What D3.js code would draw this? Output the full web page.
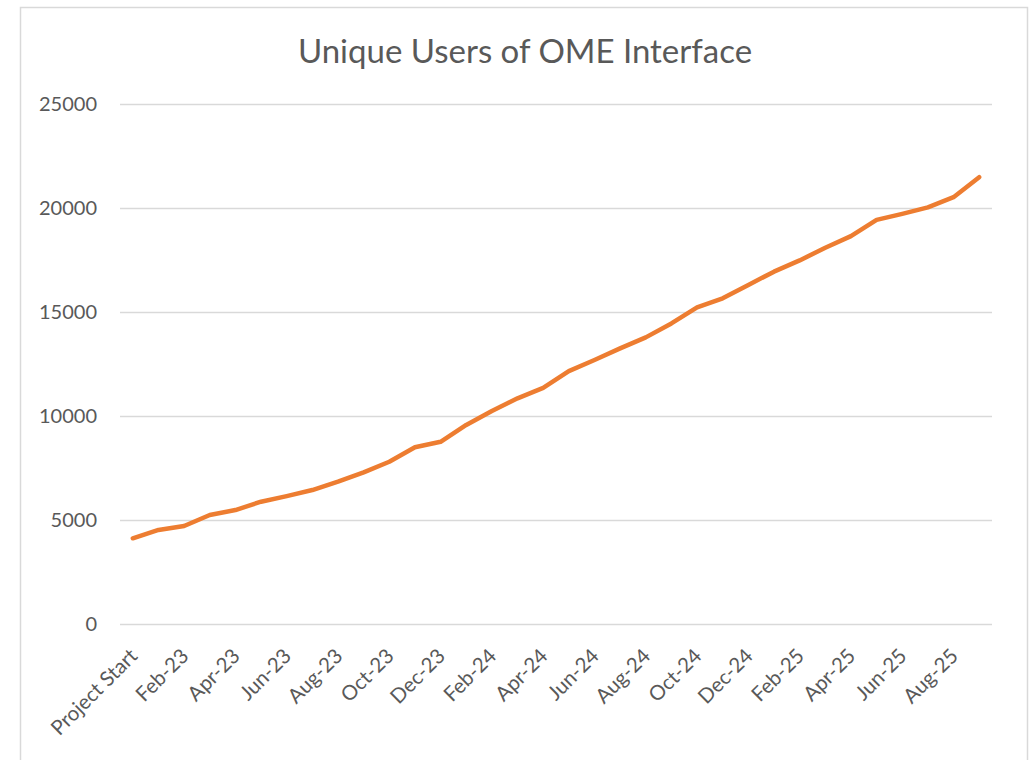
<!DOCTYPE html>
<html>
<head>
<meta charset="utf-8">
<script src="https://cdn.jsdelivr.net/npm/d3@7"></script>
<style>
	body { margin: 0; background: #fff; }
	text { font-family: Lato, "Open Sans", sans-serif; fill: #595959; }
</style>
</head>
<body>
<div id="chart"></div>
<script>
// chart data
var categories = ["Project Start",
	"Jan-23", "Feb-23", "Mar-23", "Apr-23", "May-23", "Jun-23", "Jul-23", "Aug-23", "Sep-23", "Oct-23", "Nov-23", "Dec-23",
	"Jan-24", "Feb-24", "Mar-24", "Apr-24", "May-24", "Jun-24", "Jul-24", "Aug-24", "Sep-24", "Oct-24", "Nov-24", "Dec-24",
	"Jan-25", "Feb-25", "Mar-25", "Apr-25", "May-25", "Jun-25", "Jul-25", "Aug-25", "Sep-25"];
var users = [4120,
	4520, 4710, 5240, 5480, 5880, 6150, 6440, 6840, 7290, 7800, 8500, 8760,
	9570, 10240, 10850, 11350, 12160, 12690, 13250, 13780, 14450, 15220, 15660, 16300,
	16940, 17480, 18090, 18650, 19430, 19720, 20030, 20520, 21480];
var yTicks = [0, 5000, 10000, 15000, 20000, 25000];
var title = "Unique Users of OME Interface";

drawChart();

function drawChart() {
	var w = 1035,
		h = 760,
		left = 120,
		right = 992,
		top = 104,
		bottom = 624;

	var svg = d3.select("#chart")
		.append("svg")
		.attr("width", w)
		.attr("height", h)
		.style("display", "block");

	svg.append("rect")
		.attr("x", 20.5)
		.attr("y", 7.5)
		.attr("width", 1007)
		.attr("height", 770)
		.attr("fill", "#fff")
		.attr("stroke", "#d9d9d9")
		.attr("stroke-width", 1.5);

	var x = d3.scalePoint()
		.domain(categories)
		.range([left, right])
		.padding(0.5);

	var y = d3.scaleLinear()
		.domain([0, 25000])
		.range([bottom, top]);

	svg.append("text")
		.attr("x", 525)
		.attr("y", 63)
		.attr("text-anchor", "middle")
		.attr("font-size", "33px")
		.text(title);

	// gridlines + y labels
	var yAxis = d3.axisLeft(y)
		.tickValues(yTicks)
		.tickSize(left - right)
		.tickPadding(23)
		.tickFormat(d3.format("d"));

	var gy = svg.append("g")
		.attr("transform", "translate(" + left + ",0)")
		.call(yAxis);
	gy.select(".domain").remove();
	gy.selectAll("line")
		.attr("stroke", "#d9d9d9")
		.attr("stroke-width", 1.5);
	gy.selectAll("text")
		.attr("font-size", "20px")
		.attr("font-family", null)
		.attr("fill", null);

	// rotated category labels, every second one
	var xAxis = d3.axisBottom(x)
		.tickValues(categories.filter(function(d, i) { return i % 2 == 0; }))
		.tickSize(0);

	var gx = svg.append("g")
		.attr("transform", "translate(0," + bottom + ")")
		.call(xAxis);
	gx.select(".domain").remove();
	gx.selectAll("text")
		.attr("font-size", "20.5px")
		.attr("font-family", null)
		.attr("fill", null)
		.attr("text-anchor", "end")
		.attr("y", 0)
		.attr("dy", "0.71em")
		.attr("transform", "translate(-5,23) rotate(-45)");

	var line = d3.line()
		.x(function(d, i) { return x(categories[i]); })
		.y(function(d) { return y(d); });

	svg.append("path")
		.datum(users)
		.attr("d", line)
		.attr("fill", "none")
		.attr("stroke", "#ed7d31")
		.attr("stroke-width", 4.5)
		.attr("stroke-linejoin", "round")
		.attr("stroke-linecap", "round");
}
</script>
</body>
</html>
